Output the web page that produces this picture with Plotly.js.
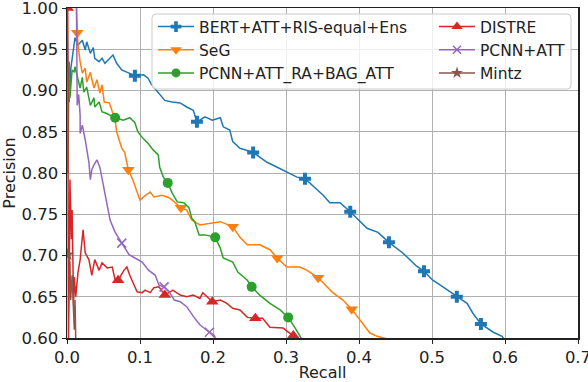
<!DOCTYPE html>
<html>
<head>
<meta charset="utf-8">
<script src="https://cdn.plot.ly/plotly-3.0.1.min.js"></script>
<style>
  html, body { margin: 0; padding: 0; background: #fff; }
  #prPlot { width: 588px; height: 382px; }
</style>
</head>
<body>
<div id="prPlot"></div>
<script>
// values (recall, precision)
const bertRecall = [0.0, 0.001, 0.003, 0.005, 0.011, 0.015, 0.021, 0.025, 0.027, 0.032, 0.036, 0.038, 0.044, 0.048, 0.052, 0.063, 0.068, 0.075, 0.085, 0.093, 0.105, 0.111, 0.116, 0.126, 0.134, 0.144, 0.155, 0.164, 0.173, 0.178, 0.189, 0.199, 0.210, 0.214, 0.223, 0.227, 0.237, 0.255, 0.264, 0.274, 0.288, 0.301, 0.315, 0.326, 0.337, 0.351, 0.360, 0.374, 0.388, 0.401, 0.411, 0.426, 0.441, 0.460, 0.479, 0.489, 0.501, 0.515, 0.534, 0.548, 0.556, 0.567, 0.584, 0.596, 0.600];
const bertPrecision = [1.0, 0.937, 0.886, 0.925, 0.964, 0.955, 0.961, 0.949, 0.959, 0.945, 0.952, 0.939, 0.935, 0.939, 0.933, 0.943, 0.933, 0.925, 0.921, 0.918, 0.919, 0.915, 0.907, 0.897, 0.888, 0.886, 0.885, 0.880, 0.876, 0.862, 0.868, 0.864, 0.867, 0.856, 0.852, 0.838, 0.830, 0.825, 0.819, 0.813, 0.807, 0.801, 0.795, 0.793, 0.784, 0.773, 0.764, 0.764, 0.753, 0.741, 0.733, 0.728, 0.716, 0.703, 0.687, 0.681, 0.670, 0.662, 0.650, 0.642, 0.630, 0.617, 0.607, 0.602, 0.597];
const bertMarkRecall = [0.093, 0.178, 0.255, 0.326, 0.388, 0.441, 0.489, 0.534, 0.567];
const bertMarkPrecision = [0.918, 0.862, 0.825, 0.793, 0.753, 0.716, 0.681, 0.650, 0.617];

const segRecall = [0.013, 0.014, 0.015, 0.018, 0.021, 0.025, 0.027, 0.032, 0.037, 0.041, 0.045, 0.048, 0.051, 0.058, 0.062, 0.066, 0.068, 0.075, 0.079, 0.084, 0.090, 0.096, 0.100, 0.105, 0.114, 0.119, 0.130, 0.140, 0.147, 0.156, 0.164, 0.171, 0.182, 0.195, 0.210, 0.227, 0.237, 0.247, 0.264, 0.278, 0.288, 0.301, 0.319, 0.329, 0.344, 0.364, 0.378, 0.390, 0.401, 0.415, 0.425, 0.438];
const segPrecision = [1.0, 0.970, 0.955, 0.935, 0.921, 0.927, 0.910, 0.922, 0.903, 0.913, 0.897, 0.907, 0.886, 0.885, 0.874, 0.864, 0.850, 0.830, 0.825, 0.804, 0.792, 0.776, 0.767, 0.771, 0.777, 0.771, 0.773, 0.770, 0.765, 0.758, 0.755, 0.743, 0.737, 0.739, 0.741, 0.735, 0.722, 0.713, 0.713, 0.707, 0.697, 0.686, 0.686, 0.682, 0.673, 0.655, 0.646, 0.635, 0.622, 0.606, 0.602, 0.599];
const segMarkRecall = [0.014, 0.084, 0.156, 0.227, 0.288, 0.344, 0.390];
const segMarkPrecision = [0.970, 0.804, 0.758, 0.735, 0.697, 0.673, 0.635];

const raRecall = [0.001, 0.002, 0.003, 0.004, 0.007, 0.010, 0.011, 0.016, 0.018, 0.021, 0.023, 0.027, 0.030, 0.032, 0.037, 0.038, 0.044, 0.048, 0.052, 0.058, 0.066, 0.077, 0.086, 0.093, 0.097, 0.104, 0.111, 0.118, 0.125, 0.127, 0.132, 0.138, 0.144, 0.151, 0.160, 0.167, 0.171, 0.175, 0.181, 0.189, 0.203, 0.210, 0.214, 0.227, 0.234, 0.247, 0.253, 0.264, 0.278, 0.292, 0.303, 0.312, 0.319, 0.322];
const raPrecision = [0.800, 0.870, 0.935, 0.891, 0.925, 0.922, 0.929, 0.910, 0.903, 0.916, 0.898, 0.904, 0.892, 0.882, 0.891, 0.880, 0.886, 0.874, 0.873, 0.870, 0.867, 0.864, 0.867, 0.861, 0.850, 0.842, 0.836, 0.828, 0.822, 0.807, 0.795, 0.788, 0.776, 0.765, 0.764, 0.758, 0.745, 0.741, 0.725, 0.725, 0.722, 0.709, 0.697, 0.692, 0.680, 0.670, 0.662, 0.652, 0.642, 0.634, 0.625, 0.613, 0.602, 0.598];
const raMarkRecall = [0.066, 0.138, 0.203, 0.253, 0.303];
const raMarkPrecision = [0.867, 0.788, 0.722, 0.662, 0.625];

const distreRecall = [0.001, 0.002, 0.003, 0.004, 0.006, 0.007, 0.009, 0.010, 0.012, 0.015, 0.018, 0.022, 0.025, 0.030, 0.034, 0.038, 0.044, 0.048, 0.055, 0.062, 0.066, 0.070, 0.078, 0.082, 0.086, 0.092, 0.096, 0.103, 0.107, 0.114, 0.119, 0.126, 0.134, 0.145, 0.155, 0.164, 0.173, 0.182, 0.186, 0.199, 0.210, 0.219, 0.227, 0.237, 0.247, 0.258, 0.268, 0.278, 0.288, 0.296, 0.305, 0.310, 0.315, 0.318];
const distrePrecision = [1.0, 0.600, 0.660, 0.792, 0.720, 0.755, 0.640, 0.674, 0.650, 0.679, 0.695, 0.731, 0.703, 0.695, 0.676, 0.695, 0.682, 0.691, 0.685, 0.686, 0.670, 0.670, 0.682, 0.686, 0.676, 0.664, 0.656, 0.655, 0.658, 0.655, 0.661, 0.662, 0.652, 0.658, 0.652, 0.650, 0.652, 0.648, 0.655, 0.644, 0.646, 0.642, 0.636, 0.634, 0.625, 0.624, 0.624, 0.613, 0.612, 0.612, 0.606, 0.603, 0.600, 0.598];
const distreMarkRecall = [0.001, 0.070, 0.134, 0.199, 0.258, 0.310];
const distreMarkPrecision = [1.0, 0.670, 0.652, 0.644, 0.624, 0.603];

const pcnnRecall = [0.013, 0.014, 0.016, 0.018, 0.018, 0.021, 0.025, 0.027, 0.030, 0.032, 0.034, 0.037, 0.041, 0.045, 0.047, 0.051, 0.055, 0.059, 0.066, 0.075, 0.085, 0.093, 0.103, 0.112, 0.121, 0.126, 0.133, 0.140, 0.147, 0.155, 0.164, 0.174, 0.182, 0.195, 0.201, 0.204];
const pcnnPrecision = [1.0, 0.882, 0.895, 0.870, 0.848, 0.858, 0.840, 0.830, 0.813, 0.792, 0.804, 0.810, 0.816, 0.807, 0.798, 0.779, 0.764, 0.743, 0.728, 0.715, 0.701, 0.697, 0.692, 0.682, 0.676, 0.664, 0.662, 0.656, 0.646, 0.644, 0.638, 0.625, 0.616, 0.607, 0.604, 0.599];
const pcnnMarkRecall = [0.075, 0.133, 0.195];
const pcnnMarkPrecision = [0.715, 0.662, 0.607];

const mintzRecall = [0.001, 0.004, 0.005, 0.007, 0.010, 0.011, 0.012];
const mintzPrecision = [0.701, 0.692, 0.646, 0.676, 0.610, 0.646, 0.598];
const mintzMarkRecall = [0.001];
const mintzMarkPrecision = [0.701];

const xTicks = [0.0, 0.1, 0.2, 0.3, 0.4, 0.5, 0.6, 0.7];
const yTicks = [0.60, 0.65, 0.70, 0.75, 0.80, 0.85, 0.90, 0.95, 1.00];

const series = [
    { name: 'BERT+ATT+RIS-equal+Ens', x: bertRecall, y: bertPrecision, mx: bertMarkRecall, my: bertMarkPrecision,
      color: '#1f77b4', symbol: 'cross', size: 10, legend: 'legend' },
    { name: 'SeG', x: segRecall, y: segPrecision, mx: segMarkRecall, my: segMarkPrecision,
      color: '#ff7f0e', symbol: 'triangle-down', size: 11, legend: 'legend' },
    { name: 'PCNN+ATT_RA+BAG_ATT', x: raRecall, y: raPrecision, mx: raMarkRecall, my: raMarkPrecision,
      color: '#2ca02c', symbol: 'circle', size: 10, legend: 'legend' },
    { name: 'DISTRE', x: distreRecall, y: distrePrecision, mx: distreMarkRecall, my: distreMarkPrecision,
      color: '#d62728', symbol: 'triangle-up', size: 11, legend: 'legend2' },
    { name: 'PCNN+ATT', x: pcnnRecall, y: pcnnPrecision, mx: pcnnMarkRecall, my: pcnnMarkPrecision,
      color: '#9467bd', symbol: 'x-thin', size: 9, legend: 'legend2' },
    { name: 'Mintz', x: mintzRecall, y: mintzPrecision, mx: mintzMarkRecall, my: mintzMarkPrecision,
      color: '#8c564b', symbol: 'star', size: 10, legend: 'legend2' },
];

function markerStyle(s) {
    const m = { symbol: s.symbol, size: s.size, color: s.color };
    if (s.symbol === 'x-thin') m.line = { color: s.color, width: 1.5 };
    else m.line = { width: 0 };
    return m;
}

const traces = [];
series.forEach((s, i) => {
    traces.push({
        type: 'scatter', mode: 'lines', x: s.x, y: s.y,
        line: { color: s.color, width: 1.5 },
        showlegend: false, hoverinfo: 'skip', legendgroup: 'g' + i,
    });
    traces.push({
        type: 'scatter', mode: 'markers', x: s.mx, y: s.my,
        marker: markerStyle(s),
        showlegend: false, hoverinfo: 'skip', legendgroup: 'g' + i,
    });
});
// legend-only entries (line + marker), kept off the visible range
series.forEach((s, i) => {
    traces.push({
        type: 'scatter', mode: 'lines+markers', x: [-1], y: [0],
        name: s.name, legend: s.legend, legendgroup: 'g' + i,
        line: { color: s.color, width: 1.5 },
        marker: Object.assign(markerStyle(s), { size: s.size - 1 }),
    });
});

const fontFamily = 'DejaVu Sans, sans-serif';
const axisCommon = {
    showline: true, mirror: true, linecolor: '#222', linewidth: 1.5,
    ticks: 'outside', ticklen: 4, tickwidth: 1, tickcolor: '#222',
    showgrid: true, gridcolor: '#b0b0b0', gridwidth: 1,
    zeroline: false, tickfont: { family: fontFamily, size: 16.5, color: '#222' },
    ticklabeloverflow: 'allow', fixedrange: true,
};

// legend frame (rounded, semi-transparent like matplotlib's)
const fx0 = (152 - 67) / 511, fx1 = (571 - 67) / 511;
const fy0 = 1 - (89 - 8) / 330, fy1 = 1 - (14 - 8) / 330;
const rx = 4 / 511, ry = 4 / 330;
const framePath = `M${fx0 + rx},${fy0} L${fx1 - rx},${fy0} Q${fx1},${fy0} ${fx1},${fy0 + ry} ` +
    `L${fx1},${fy1 - ry} Q${fx1},${fy1} ${fx1 - rx},${fy1} L${fx0 + rx},${fy1} ` +
    `Q${fx0},${fy1} ${fx0},${fy1 - ry} L${fx0},${fy0 + ry} Q${fx0},${fy0} ${fx0 + rx},${fy0} Z`;

const legendCommon = {
    bgcolor: 'rgba(0,0,0,0)', borderwidth: 0,
    font: { family: fontFamily, size: 15.5, color: '#222' },
    xanchor: 'left', yanchor: 'top', tracegroupgap: 0,
    orientation: 'v', itemwidth: 36,
};

const layout = {
    width: 588, height: 382,
    margin: { l: 67, r: 10, t: 8, b: 44 },
    paper_bgcolor: '#fff', plot_bgcolor: '#fff',
    font: { family: fontFamily, size: 16, color: '#222' },
    xaxis: Object.assign({}, axisCommon, {
        range: [0, 0.7], tickvals: xTicks, tickformat: '.1f',
        title: { text: 'Recall', font: { family: fontFamily, size: 16, color: '#222' }, standoff: 4 },
    }),
    yaxis: Object.assign({}, axisCommon, {
        range: [0.6, 1.0], tickvals: yTicks, tickformat: '.2f',
        title: { text: 'Precision', font: { family: fontFamily, size: 16, color: '#222' }, standoff: 4 },
    }),
    shapes: [{
        type: 'path', xref: 'paper', yref: 'paper', path: framePath,
        fillcolor: 'rgba(255,255,255,0.8)', line: { color: '#cccccc', width: 1 }, layer: 'above',
    }],
    legend: Object.assign({}, legendCommon, { x: (153 - 67) / 511, y: 1 - (10 - 8) / 330 }),
    legend2: Object.assign({}, legendCommon, { x: (434 - 67) / 511, y: 1 - (10 - 8) / 330 }),
    showlegend: true,
};

Plotly.newPlot('prPlot', traces, layout, { displayModeBar: false, staticPlot: true });
</script>
</body>
</html>
